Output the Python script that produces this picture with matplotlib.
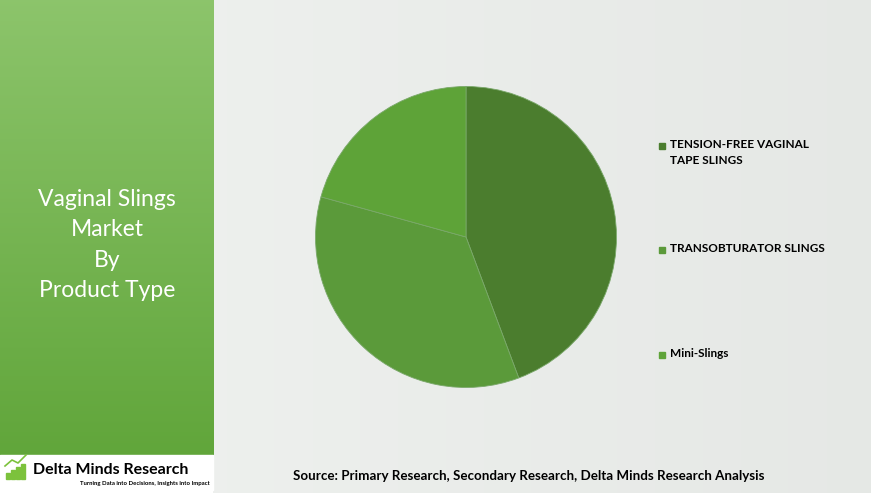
import matplotlib.pyplot as plt
import numpy as np
from matplotlib.patches import Rectangle

segments = ["TENSION-FREE VAGINAL\nTAPE SLINGS", "TRANSOBTURATOR SLINGS", "Mini-Slings"]
shares = [44.3, 35.0, 20.7]
colors = ["#4b7d2e", "#5b9a3a", "#5ea338"]

W, H = 871, 493
fig = plt.figure(figsize=(W / 100, H / 100), dpi=100)
plt.rcParams['font.family'] = ['Lato', 'DejaVu Sans']

# background
bg = fig.add_axes([0, 0, 1, 1])
bg.set_xlim(0, W); bg.set_ylim(H, 0); bg.axis("off")
grad = np.linspace(0, 1, 256).reshape(1, -1)
bg.imshow(np.dstack([0.93 - 0.03 * grad, 0.94 - 0.03 * grad, 0.93 - 0.03 * grad]),
          extent=[213, W, H, 0], aspect="auto")
vg = np.linspace(0, 1, 256).reshape(-1, 1)
bg.imshow(np.dstack([0.55 - 0.17 * vg, 0.77 - 0.12 * vg, 0.42 - 0.19 * vg]),
          extent=[0, 213, 455, 0], aspect="auto")
bg.add_patch(Rectangle((0, 455), 213, 35, color="white"))
bg.text(107, 245, "Vaginal Slings\nMarket\nBy\nProduct Type", color="white", fontsize=16.5,
        ha="center", va="center", linespacing=1.55)
for i, h in enumerate([6, 9, 12, 15]):
    bg.add_patch(Rectangle((6 + i * 5, 479 - h), 3.5, h, color="#7cc23c"))
bg.plot([5, 12, 18, 26], [466, 460, 463, 455], color="#7cc23c", lw=1.2)
bg.text(33, 470, "Delta Minds Research", fontsize=11.5, fontweight="bold", va="center")
bg.text(210, 484, "Turning Data into Decisions, Insights into Impact", fontsize=4.3,
        fontweight="bold", ha="right", va="center")
bg.text(529, 476, "Source: Primary Research, Secondary Research, Delta Minds Research Analysis",
        fontsize=9.6, fontweight="bold", ha="center", va="center")

# pie
ax = fig.add_axes([(466 - 152) / W, 1 - (237 + 152) / H, 304 / W, 304 / H])
ax.pie(shares, colors=colors, startangle=90, counterclock=False,
       wedgeprops=dict(edgecolor="#7aa86a", linewidth=0.6))
ax.set_xlim(-1.01, 1.01); ax.set_ylim(-1.01, 1.01)
ax.set_aspect("equal")

# legend
for lab, col, y in zip(segments, colors, [146, 250, 355]):
    bg.add_patch(Rectangle((659, y - 3), 6, 6, color=col))
    bg.text(670, y - 7, lab, fontsize=8.5, fontweight="bold", va="top", linespacing=1.55)

fig.savefig("out.png", dpi=100)
